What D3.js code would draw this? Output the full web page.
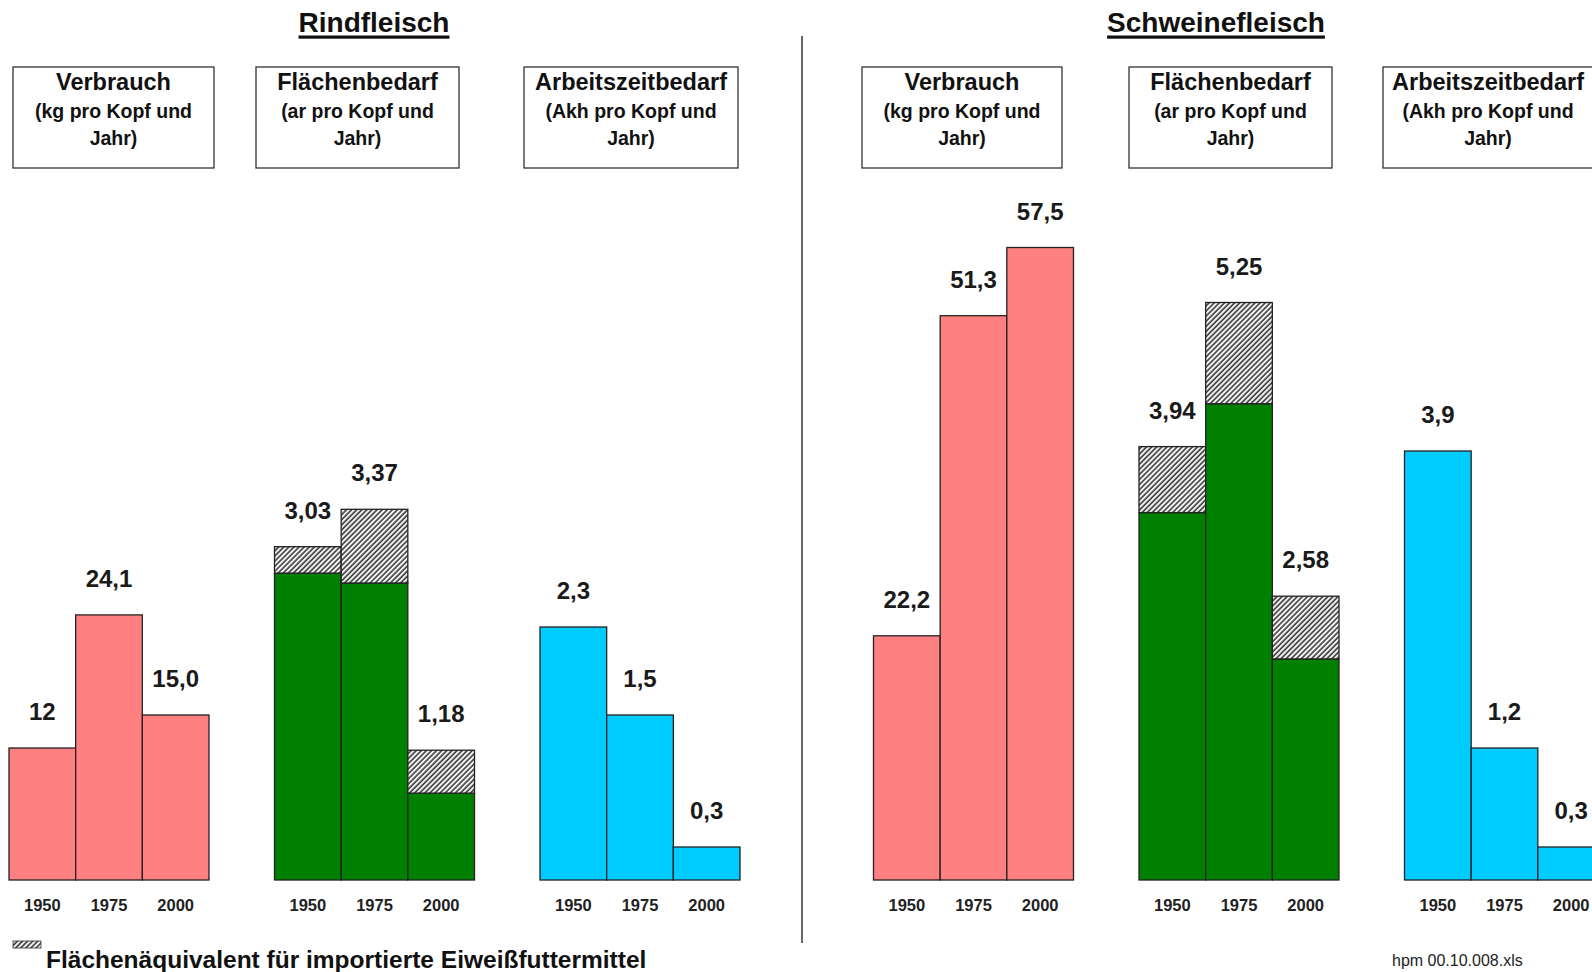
<!DOCTYPE html>
<html lang="de">
<head>
<meta charset="utf-8">
<title>Rindfleisch und Schweinefleisch</title>
<script src="https://cdn.jsdelivr.net/npm/d3@7"></script>
<style>
  body { margin: 0; background: #fff; }
  svg { display: block; font-family: "Liberation Sans", Arial, sans-serif; }
</style>
</head>
<body>
<div id="chart"></div>
<script>
// Daten
const jahre = ["1950", "1975", "2000"];
const kennzahlen = ["Verbrauch", "Flächenbedarf", "Arbeitszeitbedarf"];
const einheiten = ["(kg pro Kopf und", "(ar pro Kopf und", "(Akh pro Kopf und"];

const verbrauchRind = [12, 24.1, 15.0];
const verbrauchSchwein = [22.2, 51.3, 57.5];
const verbrauchLabelsRind = ["12", "24,1", "15,0"];
const verbrauchLabelsSchwein = ["22,2", "51,3", "57,5"];

// Flächenbedarf: Inland (grün) und Flächenäquivalent Import (schraffiert)
const flaecheInlandRind = [2.79, 2.70, 0.79];
const flaecheImportRind = [0.24, 0.67, 0.39];
const flaecheInlandSchwein = [3.34, 4.33, 2.01];
const flaecheImportSchwein = [0.60, 0.92, 0.57];

const arbeitRind = [2.3, 1.5, 0.3];
const arbeitSchwein = [3.9, 1.2, 0.3];

const legendeText = "Flächenäquivalent für importierte Eiweißfuttermittel";
const quelle = "hpm 00.10.008.xls";

// Layout
const width = 1592, height = 972;
const basis = 880;
const farben = { verbrauch: "#ff8080", flaeche: "#008000", arbeit: "#00ccff" };

const de = d3.formatLocale({ decimal: ",", thousands: ".", grouping: [3], currency: ["", " €"] });
const fmt1 = de.format(".1f"), fmt2 = de.format(".2f");

// Kästen: Mitte und Breite (absolut), wie im Original etwas unregelmäßig gesetzt
const panels = [
    { titel: "Rindfleisch", x0: 9, titelX: 374,
      kastenMitte: [113.5, 357.5, 631], kastenBreite: [201, 203, 214],
      verbrauch: verbrauchRind, verbrauchLabels: verbrauchLabelsRind,
      inland: flaecheInlandRind, imp: flaecheImportRind, arbeit: arbeitRind },
    { titel: "Schweinefleisch", x0: 873.5, titelX: 1216,
      kastenMitte: [962, 1230.5, 1488], kastenBreite: [200, 203, 210],
      verbrauch: verbrauchSchwein, verbrauchLabels: verbrauchLabelsSchwein,
      inland: flaecheInlandSchwein, imp: flaecheImportSchwein, arbeit: arbeitSchwein }
];

// Skalen: kg und ar/Akh teilen sich die Höhe im Verhältnis 10:1
const yKg = d3.scaleLinear().domain([0, 80]).range([basis, 0]);
const yAr = d3.scaleLinear().domain([0, 8]).range([basis, 0]);

const gruppeX = d3.scaleBand().domain(kennzahlen).range([0, 731]).paddingInner(65.5 / 265.5);
const jahrX = d3.scaleBand().domain(jahre).range([0, gruppeX.bandwidth()]);

const svg = d3.select("#chart").append("svg")
    .attr("width", width)
    .attr("height", height);

svg.append("rect").attr("width", width).attr("height", height).attr("fill", "#fff");

// Schraffur
const pattern = svg.append("defs").append("pattern")
    .attr("id", "schraffur")
    .attr("patternUnits", "userSpaceOnUse")
    .attr("width", 3.6).attr("height", 3.6)
    .attr("patternTransform", "rotate(45)");
pattern.append("rect").attr("width", 3.6).attr("height", 3.6).attr("fill", "#f4f4f4");
pattern.append("line")
    .attr("x1", 1).attr("y1", 0).attr("x2", 1).attr("y2", 3.6)
    .attr("stroke", "#222").attr("stroke-width", 1.4);

const strich = "#222";

panels.forEach(p => {
    const g = svg.append("g").attr("transform", `translate(${p.x0},0)`);

    // Titel mit Unterstreichung
    const t = svg.append("text")
        .attr("x", p.titelX).attr("y", 32)
        .attr("text-anchor", "middle")
        .attr("font-size", 28).attr("font-weight", "bold")
        .attr("fill", "#111")
        .text(p.titel);
    const tl = t.node().getComputedTextLength();
    svg.append("rect")
        .attr("x", p.titelX - tl / 2).attr("y", 35.5)
        .attr("width", tl).attr("height", 3.2)
        .attr("fill", "#111");

    kennzahlen.forEach((k, i) => {
        // Überschriftskasten
        const km = p.kastenMitte[i], kb = p.kastenBreite[i];
        svg.append("rect")
            .attr("x", km - kb / 2).attr("y", 67)
            .attr("width", kb).attr("height", 101)
            .attr("fill", "#fff").attr("stroke", "#333").attr("stroke-width", 1.3);
        svg.append("text")
            .attr("x", km).attr("y", 90)
            .attr("text-anchor", "middle").attr("font-size", 23.5).attr("font-weight", "bold")
            .attr("fill", "#111").text(k);
        svg.append("text")
            .attr("x", km).attr("y", 118)
            .attr("text-anchor", "middle").attr("font-size", 19.5).attr("font-weight", "bold")
            .attr("fill", "#111").text(einheiten[i]);
        svg.append("text")
            .attr("x", km).attr("y", 145)
            .attr("text-anchor", "middle").attr("font-size", 19.5).attr("font-weight", "bold")
            .attr("fill", "#111").text("Jahr)");

        const grp = g.append("g").attr("transform", `translate(${gruppeX(k)},0)`);

        // Balken
        let daten;
        if (i === 0) {
            daten = jahre.map((j, n) => ({ jahr: j, segs: [{ y0: 0, y1: p.verbrauch[n], fill: farben.verbrauch }],
                label: p.verbrauchLabels[n], y: yKg }));
        } else if (i === 1) {
            daten = jahre.map((j, n) => ({ jahr: j,
                segs: [{ y0: 0, y1: p.inland[n], fill: farben.flaeche },
                       { y0: p.inland[n], y1: p.inland[n] + p.imp[n], fill: "url(#schraffur)" }],
                label: fmt2(p.inland[n] + p.imp[n]), y: yAr }));
        } else {
            daten = jahre.map((j, n) => ({ jahr: j, segs: [{ y0: 0, y1: p.arbeit[n], fill: farben.arbeit }],
                label: fmt1(p.arbeit[n]), y: yAr }));
        }

        const bar = grp.selectAll("g.bar")
            .data(daten)
            .enter()
            .append("g")
            .attr("class", "bar");

        bar.selectAll("rect")
            .data(d => d.segs.map(s => Object.assign({ jahr: d.jahr, y: d.y }, s)))
            .enter()
            .append("rect")
            .attr("x", s => jahrX(s.jahr))
            .attr("width", jahrX.bandwidth())
            .attr("y", s => s.y(s.y1))
            .attr("height", s => s.y(s.y0) - s.y(s.y1))
            .attr("fill", s => s.fill)
            .attr("stroke", strich)
            .attr("stroke-width", 1.3);

        // Werte
        bar.append("text")
            .attr("x", d => jahrX(d.jahr) + jahrX.bandwidth() / 2)
            .attr("y", d => d.y(d3.sum(d.segs, s => s.y1 - s.y0)) - 28)
            .attr("text-anchor", "middle")
            .attr("font-size", 24).attr("font-weight", "bold")
            .attr("fill", "#1a1a1a")
            .text(d => d.label);

        // Jahre
        bar.append("text")
            .attr("x", d => jahrX(d.jahr) + jahrX.bandwidth() / 2)
            .attr("y", 911)
            .attr("text-anchor", "middle")
            .attr("font-size", 16.5).attr("font-weight", "bold")
            .attr("fill", "#222")
            .text(d => d.jahr);
    });
});

// Trennlinie
svg.append("line")
    .attr("x1", 802).attr("x2", 802)
    .attr("y1", 36).attr("y2", 943)
    .attr("stroke", "#333").attr("stroke-width", 1.5);

// Legende
svg.append("rect")
    .attr("x", 13).attr("y", 941).attr("width", 28).attr("height", 7)
    .attr("fill", "url(#schraffur)").attr("stroke", "#333").attr("stroke-width", 0.8);
svg.append("text")
    .attr("x", 46).attr("y", 968)
    .attr("font-size", 24.5).attr("font-weight", "bold")
    .attr("fill", "#111")
    .text(legendeText);

svg.append("text")
    .attr("x", 1392).attr("y", 966)
    .attr("font-size", 16)
    .attr("fill", "#222")
    .text(quelle);
</script>
</body>
</html>
